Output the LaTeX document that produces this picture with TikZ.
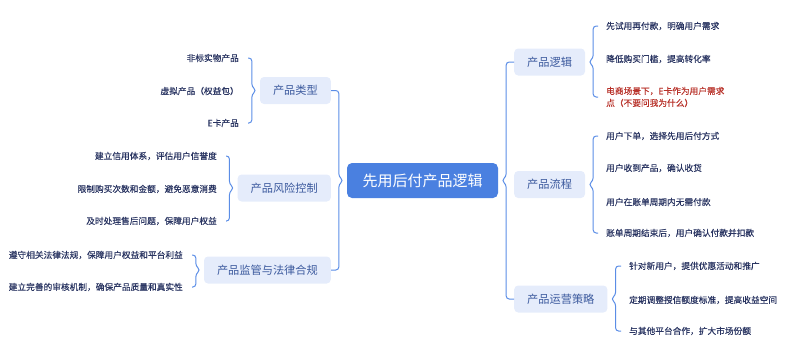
\documentclass[tikz,border=0pt]{standalone}
\usepackage{fontspec}
\setmainfont{Noto Sans CJK SC}
\newfontfamily\leaffont[FakeBold=0.4]{Noto Sans CJK SC}
\usetikzlibrary{calc}
\definecolor{forkc}{HTML}{5B8DE6}
\definecolor{centerc}{HTML}{4A80E0}
\definecolor{subfill}{HTML}{E5ECFB}
\definecolor{subtext}{HTML}{3C5A9E}
\definecolor{leaftext}{HTML}{2A3562}
\definecolor{redtext}{HTML}{B8322A}
\tikzset{
  fork/.style={draw=forkc, line width=1pt, rounded corners=3pt},
  centerbox/.style={fill=centerc, text=white, rounded corners=5pt, minimum height=35pt, inner xsep=15.5pt, font=\fontsize{15}{18}\selectfont},
  subbox/.style={fill=subfill, text=subtext, rounded corners=4pt, minimum height=27pt, inner xsep=13pt, font=\fontsize{11.2}{13}\selectfont},
  leaf/.style={text=leaftext, inner sep=0pt, font=\leaffont\fontsize{8.7}{12}\selectfont},
}
\newcommand\rightfork[4]{%
  \draw[fork] let \p1=(#1.east), \p2=(#2.west), \p3=(#3.west) in
    ({\x2-#4},\y2) -- ({\x1+8pt},\y2) -- ({\x1+8pt},{\y1+4pt}) -- ({\x1+3.5pt},\y1)
    -- ({\x1+8pt},{\y1-4pt}) -- ({\x1+8pt},\y3) -- ({\x3-#4},\y3);}
\newcommand\leftfork[4]{%
  \draw[fork] let \p1=(#1.west), \p2=(#2.east), \p3=(#3.east) in
    ({\x2+#4},\y2) -- ({\x1-8pt},\y2) -- ({\x1-8pt},{\y1+4pt}) -- ({\x1-3.5pt},\y1)
    -- ({\x1-8pt},{\y1-4pt}) -- ({\x1-8pt},\y3) -- ({\x3+#4},\y3);}
\begin{document}
\begin{tikzpicture}[x=1pt,y=-1pt]
\useasboundingbox (0,0) rectangle (800,349);
% center
\node[centerbox] (c) at (422.5,180.5) {先用后付产品逻辑};
% left children
\node[subbox, anchor=east] (t1) at (331,90.5) {产品类型};
\node[subbox, anchor=east] (t2) at (331,188) {产品风险控制};
\node[subbox, anchor=east] (t3) at (331,270) {产品监管与法律合规};
% right children
\node[subbox, anchor=west] (r1) at (514,62) {产品逻辑};
\node[subbox, anchor=west] (r2) at (514,184.5) {产品流程};
\node[subbox, anchor=west] (r3) at (514,299) {产品运营策略};
% leaves left
\node[leaf, anchor=east] (t1a) at (239,58) {非标实物产品};
\node[leaf, anchor=east] (t1b) at (239,91) {虚拟产品（权益包）};
\node[leaf, anchor=east] (t1c) at (239,123) {E卡产品};
\node[leaf, anchor=east] (t2a) at (217,156) {建立信用体系，评估用户信誉度};
\node[leaf, anchor=east] (t2b) at (217,189) {限制购买次数和金额，避免恶意消费};
\node[leaf, anchor=east] (t2c) at (217,221) {及时处理售后问题，保障用户权益};
\node[leaf, anchor=east] (t3a) at (183,255) {遵守相关法律法规，保障用户权益和平台利益};
\node[leaf, anchor=east] (t3b) at (183,287) {建立完善的审核机制，确保产品质量和真实性};
% leaves right
\node[leaf, anchor=west] (r1a) at (606,26) {先试用再付款，明确用户需求};
\node[leaf, anchor=west] (r1b) at (606,59) {降低购买门槛，提高转化率};
\node[leaf, anchor=west, text=redtext, align=left] (r1c) at (606,97) {电商场景下，E卡作为用户需求\\点（不要问我为什么）};
\node[leaf, anchor=west] (r2a) at (606,136) {用户下单，选择先用后付方式};
\node[leaf, anchor=west] (r2b) at (606,168) {用户收到产品，确认收货};
\node[leaf, anchor=west] (r2c) at (606,202) {用户在账单周期内无需付款};
\node[leaf, anchor=west] (r2d) at (606,233) {账单周期结束后，用户确认付款并扣款};
\node[leaf, anchor=west] (r3a) at (629,266) {针对新用户，提供优惠活动和推广};
\node[leaf, anchor=west] (r3b) at (629,300) {定期调整授信额度标准，提高收益空间};
\node[leaf, anchor=west] (r3c) at (629,331) {与其他平台合作，扩大市场份额};
% forks
\leftfork{c}{t1}{t3}{0pt}
\rightfork{c}{r1}{r3}{0pt}
\leftfork{t1}{t1a}{t1c}{9pt}
\leftfork{t2}{t2a}{t2c}{9pt}
\leftfork{t3}{t3a}{t3b}{9pt}
\rightfork{r1}{r1a}{r1c}{8pt}
\rightfork{r2}{r2a}{r2d}{8pt}
\rightfork{r3}{r3a}{r3c}{8pt}
\end{tikzpicture}
\end{document}
